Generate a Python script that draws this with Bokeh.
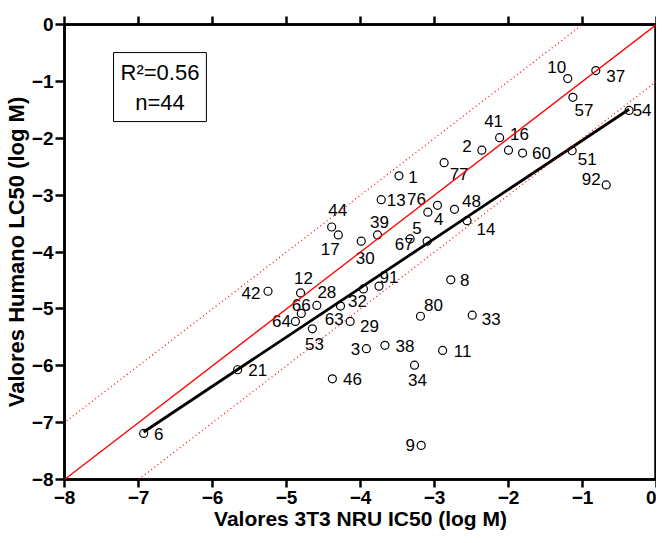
from bokeh.plotting import figure
from bokeh.models import Range1d, FixedTicker, LinearAxis, Slope, Label, ColumnDataSource
from bokeh.embed import file_html
from bokeh.resources import INLINE
from bokeh.core.properties import value

# ---- data ----
compound_ids = ["10", "37", "57", "54", "41", "16", "2", "60", "51", "92", "77", "1",
                "13", "76", "4", "48", "14", "39", "30", "5", "67", "29", "91", "8",
                "80", "33", "38", "3", "11", "34", "9", "21", "6", "46", "53", "44",
                "17", "42", "12", "28", "66", "64", "32", "63"]
nru_ic50 = [-1.20, -0.82, -1.13, -0.37, -2.12, -2.00, -2.36, -1.81, -1.14, -0.68, -2.87, -3.48,
            -3.72, -2.96, -3.09, -2.73, -2.56, -3.77, -3.99, -3.33, -3.10, -3.96, -3.75, -2.78,
            -3.19, -2.49, -3.67, -3.92, -2.89, -3.27, -3.18, -5.66, -6.93, -4.38, -4.65, -4.39,
            -4.30, -5.25, -4.81, -4.59, -4.80, -4.88, -4.27, -4.14]
human_lc50 = [-0.95, -0.81, -1.28, -1.51, -1.99, -2.21, -2.21, -2.26, -2.22, -2.82, -2.43, -2.66,
              -3.08, -3.18, -3.30, -3.25, -3.45, -3.70, -3.81, -3.77, -3.81, -4.65, -4.60, -4.49,
              -5.13, -5.11, -5.64, -5.70, -5.73, -5.99, -7.40, -6.07, -7.19, -6.23, -5.35, -3.56,
              -3.70, -4.69, -4.72, -4.94, -5.08, -5.22, -4.95, -5.22]
axis_ticks = [-8, -7, -6, -5, -4, -3, -2, -1, 0]
r_squared = 0.56
n_compounds = 44
fit_slope = 0.865
fit_intercept = -1.17
band = 1.0

# ---- label placement (screen pixel offsets, layout only) ----
label_dx = [-11, 20, 11, 13, -6, 11, -15, 19, 15, -15, 15, 14,
            15, -21, 11, 17, 19, 2, 4, 7, -23, 6, 10, 14,
            13, 19, 20, -11, 20, 3, -11, 20, 15, 20, 2, 6,
            -8, -17, 3, 10, 0, -14, 17, -16]
label_dy = [-12, 5, 13, 0, -17, -16, -4, 0, 8, -6, 11, 1,
            0, -6, 7, -8, 8, -13, 17, -11, 3, 37, -9, 0,
            -11, 4, 1, 0, 1, 15, 0, 0, 1, 0, 15, -17,
            14, 2, -15, -13, -8, 0, -5, -2]

FONT = "Liberation Sans"

p = figure(width=656, height=535,
           x_range=Range1d(axis_ticks[0], axis_ticks[-1]),
           y_range=Range1d(axis_ticks[0], axis_ticks[-1]),
           output_backend="svg", toolbar_location=None,
           min_border_left=59, min_border_right=0,
           min_border_top=24, min_border_bottom=56)
p.grid.visible = False
p.background_fill_color = "white"
p.border_fill_color = "white"
p.outline_line_color = "black"
p.outline_line_width = 2.5


def style_axis(ax, label, tick_out, standoff, tick_size, label_size):
    ax.ticker = FixedTicker(ticks=axis_ticks)
    ax.axis_line_color = "black"
    ax.axis_line_width = 2.5
    ax.major_tick_line_color = "black"
    ax.major_tick_line_width = 2.5
    ax.major_tick_out = tick_out
    ax.major_tick_in = 0
    ax.minor_tick_line_color = None
    ax.major_label_text_font = FONT
    ax.major_label_text_font_style = "bold"
    ax.major_label_text_font_size = tick_size
    ax.major_label_text_color = "black"
    ax.major_label_standoff = standoff
    ax.axis_label = label
    ax.axis_label_text_font = FONT
    ax.axis_label_text_font_style = "bold"
    ax.axis_label_text_font_size = label_size
    ax.axis_label_text_color = "black"
    ax.axis_label_standoff = 0


style_axis(p.xaxis[0], "Valores 3T3 NRU IC50 (log M)", 8, 3, "19px", "21px")
style_axis(p.yaxis[0], "Valores Humano LC50 (log M)", 9, 2, "19px", "22px")

top = LinearAxis(ticker=FixedTicker(ticks=axis_ticks),
                 axis_line_color="black", axis_line_width=2.5,
                 major_tick_line_color="black", major_tick_line_width=2.5,
                 major_tick_out=8, major_tick_in=0,
                 minor_tick_line_color=None,
                 major_label_text_font_size="1px", major_label_text_color=None,
                 major_label_standoff=0)
p.add_layout(top, "above")

# identity line and +/- 1 log band
p.add_layout(Slope(gradient=1, y_intercept=0, line_color="red", line_width=1.3))
p.add_layout(Slope(gradient=1, y_intercept=band, line_color="red", line_width=1.2,
                   line_dash="1 3"))
p.add_layout(Slope(gradient=1, y_intercept=-band, line_color="red", line_width=1.2,
                   line_dash="1 3"))

# regression line over data x-range
x_fit = [min(nru_ic50), max(nru_ic50)]
y_fit = [fit_slope * v + fit_intercept for v in x_fit]
p.line(x_fit, y_fit, line_color="black", line_width=2.8)

src = ColumnDataSource(dict(x=nru_ic50, y=human_lc50, name=compound_ids,
                            dx=label_dx, dy=label_dy))
p.scatter("x", "y", source=src, size=8, marker="circle", fill_color=None,
          line_color="black", line_width=1.2)
p.text("x", "y", text="name", source=src, x_offset="dx", y_offset="dy",
       text_align="center", text_baseline="middle",
       text_font=value(FONT), text_font_size="17px", text_color="black")

box = Label(x=-6.71, y=-1.10, text=f"R\u00b2={r_squared:.2f}\nn={n_compounds}",
            text_align="center", text_baseline="middle",
            text_font=FONT, text_font_size="22px", text_color="black",
            border_line_color="black", border_line_width=1,
            background_fill_color="white", padding=7)
p.add_layout(box)

open("out.html", "w").write(file_html(p, INLINE))
